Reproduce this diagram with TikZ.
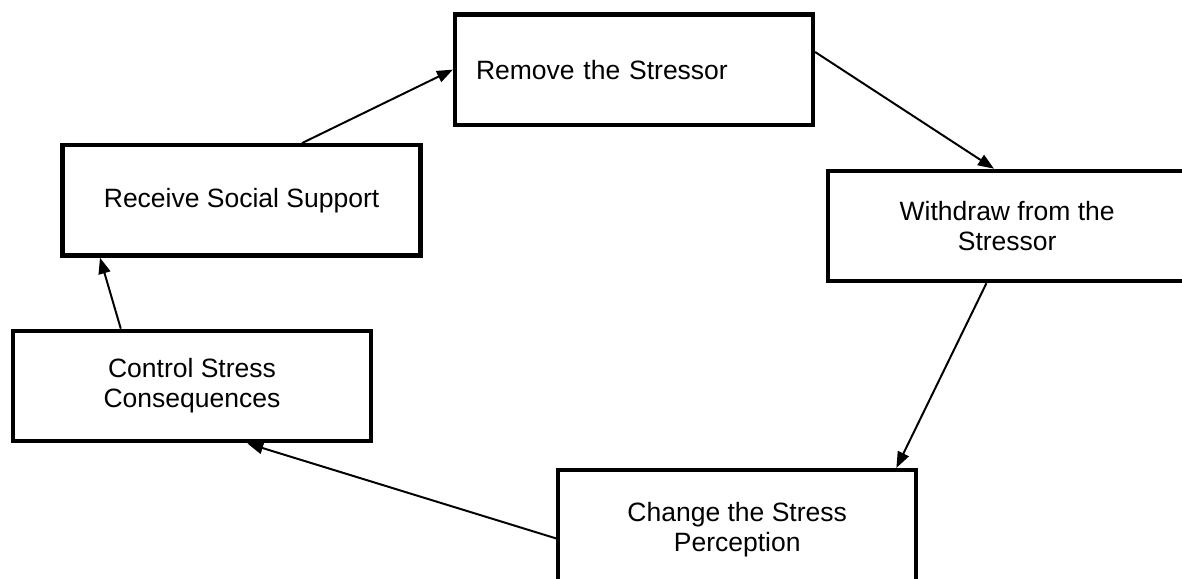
\documentclass[tikz,border=0pt]{standalone}
\usepackage{fontspec}
\setmainfont{Liberation Sans}
\usetikzlibrary{arrows.meta}
\begin{document}
\begin{tikzpicture}[
            stagebox/.style={draw=black, line width=3pt, rectangle, minimum width=8.95cm, minimum height=2.76cm, align=center, font=\fontsize{18.85pt}{21.3pt}\selectfont},
            cyclearrow/.style={-{Triangle[length=0.4cm, width=0.3cm]}, line width=1.4pt, color=black}
        ]
            \useasboundingbox (0, 0) rectangle (29.55, -14.45);
            \node[stagebox, text width=7.9cm, inner xsep=0.525cm, align=left] (remove) at (15.85, -1.74) {Remove the Stressor};
            \node[stagebox] (withdraw) at (25.18, -5.65) {Withdraw from the\\Stressor};
            \node[stagebox, minimum height=3cm] (change) at (18.43, -13.25) {Change the Stress\\Perception};
            \node[stagebox] (control) at (4.8, -9.65) {Control Stress\\Consequences};
            \node[stagebox] (receive) at (6.04, -5.01) {Receive Social Support};
            \draw[cyclearrow] ([xshift=1.51cm]receive.north) -- (remove.west);
            \draw[cyclearrow] ([yshift=0.44cm]remove.east) -- ([xshift=-0.33cm]withdraw.north);
            \draw[cyclearrow] ([xshift=-0.52cm]withdraw.south) -- ([xshift=3.98cm]change.north);
            \draw[cyclearrow] ([yshift=-0.21cm]change.west) -- ([xshift=1.38cm]control.south);
            \draw[cyclearrow] ([xshift=-1.78cm]control.north) -- ([xshift=-3.54cm]receive.south);
        \end{tikzpicture}
\end{document}
